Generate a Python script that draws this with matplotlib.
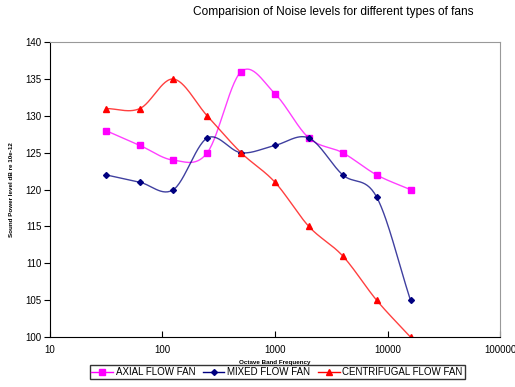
import numpy as np
import matplotlib.pyplot as plt

plt.rcParams['font.family'] = ['Liberation Sans', 'DejaVu Sans']

# octave band centre frequencies
freq = [31.5, 63, 125, 250, 500, 1000, 2000, 4000, 8000, 16000]
axial = [128, 126, 124, 125, 136, 133, 127, 125, 122, 120]
mixed = [122, 121, 120, 127, 125, 126, 127, 122, 119, 105]
centrifugal = [131, 131, 135, 130, 125, 121, 115, 111, 105, 100]


def smooth(x, y, n=30):
    """Catmull-Rom curve through the points (like Excel's smoothed line), x in log space"""
    lx = np.log10(x)
    y = np.asarray(y, float)
    px = np.concatenate([[2 * lx[0] - lx[1]], lx, [2 * lx[-1] - lx[-2]]])
    py = np.concatenate([[2 * y[0] - y[1]], y, [2 * y[-1] - y[-2]]])
    xs, ys = [], []
    t = np.linspace(0, 1, n)
    for i in range(1, len(px) - 2):
        for p, out in ((px, xs), (py, ys)):
            p0, p1, p2, p3 = p[i - 1], p[i], p[i + 1], p[i + 2]
            out.extend(0.5 * (2 * p1 + (-p0 + p2) * t
                              + (2 * p0 - 5 * p1 + 4 * p2 - p3) * t ** 2
                              + (-p0 + 3 * p1 - 3 * p2 + p3) * t ** 3))
    return 10 ** np.array(xs), np.array(ys)


fig = plt.figure(figsize=(5.15, 3.87), dpi=100)
ax = fig.add_axes([0.097, 0.129, 0.874, 0.762])

series = [
    (axial, '#ff00ff', 's', 5, 'AXIAL FLOW FAN'),
    (mixed, '#000080', 'D', 3, 'MIXED FLOW FAN'),
    (centrifugal, '#ff0000', '^', 5, 'CENTRIFUGAL FLOW FAN'),
]
handles = []
for vals, col, mk, ms, lab in series:
    sx, sy = smooth(freq, vals)
    ax.plot(sx, sy, color=col, lw=1, alpha=0.75)
    ax.plot(freq, vals, ls='none', marker=mk, ms=ms, color=col)
    h, = ax.plot([], [], color=col, lw=1, marker=mk, ms=ms, label=lab)
    handles.append(h)

ax.set_xscale('log')
ax.set_xlim(10, 100000)
ax.set_ylim(100, 140)
ax.set_yticks(range(100, 141, 5))
ax.set_xticks([10, 100, 1000, 10000, 100000])
ax.set_xticklabels(['10', '100', '1000', '10000', '100000'])
ax.minorticks_off()
ax.tick_params(labelsize=7, length=4, direction='out', pad=2)
ax.tick_params(axis='x', direction='in', pad=6)

for s in ['top', 'right']:
    ax.spines[s].set_color('#999999')

ax.set_xlabel('Octave Band Frequency', fontsize=4.5, fontweight='bold', labelpad=3)
ax.set_ylabel('Sound Power level dB re 10e-12', fontsize=4.5, fontweight='bold', labelpad=8)

fig.text(0.647, 0.968, 'Comparision of Noise levels for different types of fans',
         ha='center', va='center', fontsize=8.6)

fig.legend(handles=handles, loc='center', bbox_to_anchor=(0.538, 0.039), ncol=3,
           fontsize=7, frameon=True, fancybox=False, edgecolor='black',
           handlelength=2.2, handletextpad=0.3, columnspacing=0.8,
           borderpad=0.2, borderaxespad=0)

fig.savefig('out.png', dpi=100)
